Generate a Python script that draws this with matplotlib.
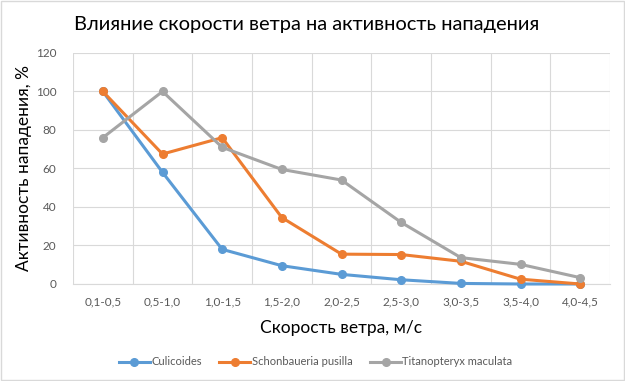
import matplotlib.pyplot as plt
import numpy as np
from matplotlib.patches import Rectangle

plt.rcParams['font.family'] = ['Lato', 'DejaVu Sans']

categories = ['0,1-0,5', '0,5-1,0', '1,0-1,5', '1,5-2,0', '2,0-2,5',
              '2,5-3,0', '3,0-3,5', '3,5-4,0', '4,0-4,5']
culicoides = [100, 58, 18, 9.5, 5, 2.2, 0.3, 0, 0]
schonbaueria = [100, 67.5, 76, 34.5, 15.5, 15.3, 11.8, 2.5, 0]
titanopteryx = [76, 100, 71, 59.5, 54, 32, 13.7, 10.2, 3.3]

fig = plt.figure(figsize=(6.25, 3.81), dpi=100)
ax = fig.add_axes([0.1168, 0.2546, 0.8592, 0.6064])
fig.patches.append(Rectangle((0.002, 0.003), 0.996, 0.994, transform=fig.transFigure,
                             fill=False, edgecolor='#d9d9d9', linewidth=1))

x = np.arange(len(categories))
series = [('Culicoides', culicoides, '#5B9BD5'),
          ('Schonbaueria pusilla', schonbaueria, '#ED7D31'),
          ('Titanopteryx maculata', titanopteryx, '#A5A5A5')]
for name, vals, col in series:
    ax.plot(x, vals, color=col, linewidth=2.2, marker='o', markersize=5.5,
            label=name, zorder=3, clip_on=False)

ax.set_xlim(-0.5, len(categories) - 0.5)
ax.set_ylim(0, 120)
ax.set_yticks(range(0, 121, 20))
ax.set_xticks(x)
ax.set_xticklabels(categories)
ax.set_xticks(np.arange(-0.5, len(categories), 1), minor=True)
ax.grid(True, axis='y', color='#d9d9d9', linewidth=0.8)
ax.grid(True, axis='x', which='minor', color='#d9d9d9', linewidth=0.8)
ax.tick_params(axis='both', which='both', length=0, labelsize=8.5, colors='#595959')
ax.tick_params(axis='x', pad=9)
ax.tick_params(axis='y', pad=12)
for s in ['top', 'right', 'left']:
    ax.spines[s].set_visible(False)
ax.spines['bottom'].set_color('#d9d9d9')

fig.text(0.49, 0.935, 'Влияние скорости ветра на активность нападения',
         ha='center', va='center', fontsize=14.5, color='black')
ax.set_xlabel('Скорость ветра, м/с', fontsize=12.5, labelpad=9)
ax.set_ylabel('Активность нападения, %', fontsize=12.5, labelpad=3)

fig.legend(loc='center', bbox_to_anchor=(0.505, 0.05), ncol=3, frameon=False,
           fontsize=8, handlelength=2.8, columnspacing=1.6, handletextpad=0.1,
           labelcolor='#595959')

fig.savefig('out.png', dpi=100)
